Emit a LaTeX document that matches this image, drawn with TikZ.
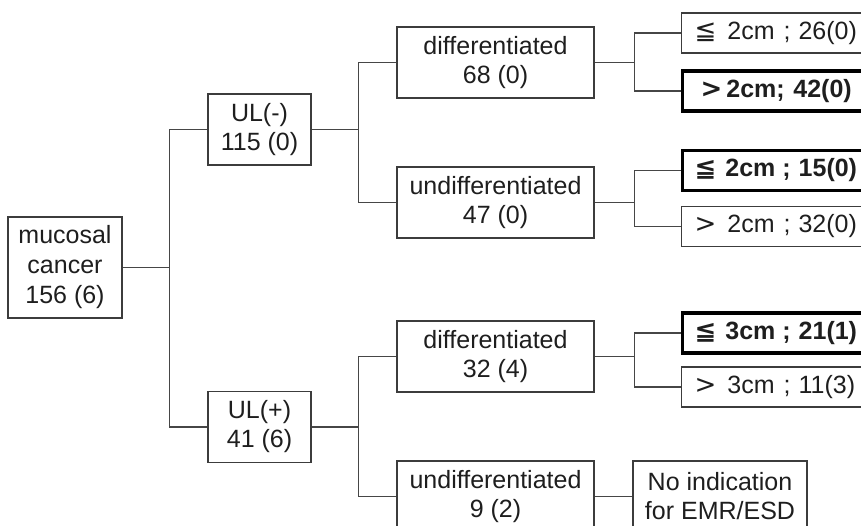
\documentclass[tikz,border=0pt]{standalone}
\usepackage{fontspec}
\setmainfont{Liberation Sans}
\newfontfamily\symf{DejaVu Sans}
\newcommand\symb[1]{{\fontsize{26}{28}\selectfont\symf #1}}
\definecolor{linec}{RGB}{70,70,70}
\definecolor{boxc}{RGB}{60,60,60}
\definecolor{txtc}{RGB}{30,30,30}
\begin{document}
\begin{tikzpicture}[x=1pt,y=-1pt,
  conn/.style={draw=linec,line width=1.2pt},
  box/.style={draw=boxc,line width=1.3pt,align=center,inner sep=0pt,text=txtc,
    font=\fontsize{25}{29}\selectfont},
  leaf/.style={draw=boxc,line width=1.3pt,anchor=west,inner ysep=0pt,inner xsep=13pt,
    text width=190pt,align=left,minimum height=40pt,text=txtc,
    font=\fontsize{25}{28}\selectfont},
  leafb/.style={leaf,draw=black,line width=3.2pt,font=\fontsize{25}{28}\selectfont\bfseries}]
\useasboundingbox (0,0) rectangle (861,526);
\clip (0,0) rectangle (861,526);
% level 0
\node[box,minimum width=114pt,minimum height=101pt,font=\fontsize{25}{30}\selectfont] (muc) at (65,267.5) {mucosal\\cancer\\156 (6)};
% level 1
\node[box,minimum width=103pt,minimum height=71pt] (ulm) at (259.5,129.5) {UL(-)\\115 (0)};
\node[box,minimum width=103pt,minimum height=71pt] (ulp) at (259.5,427) {UL(+)\\41 (6)};
% level 2
\node[box,minimum width=197pt,minimum height=71pt] (d1) at (495.5,62.5) {differentiated\\68 (0)};
\node[box,minimum width=197pt,minimum height=71pt] (u1) at (495.5,202.5) {undifferentiated\\47 (0)};
\node[box,minimum width=197pt,minimum height=71pt] (d2) at (495.5,356.5) {differentiated\\32 (4)};
\node[box,minimum width=197pt,minimum height=71pt] (u2) at (495.5,496.5) {undifferentiated\\9 (2)};
% level 3
\node[leaf] (a1) at (681,33) {\symb{≦}\hspace{11pt}2cm\hspace{9pt};\hspace{8pt}26(0)};
\node[leafb] (a2) at (681,91) {\hspace*{5pt}\symb{>}\hspace{4pt}2cm;\hspace{8.7pt}42(0)};
\node[leafb] (a3) at (681,170.5) {\hspace*{-1pt}\symb{≦}\hspace{9pt}2cm\hspace{7pt};\hspace{8pt}15(0)};
\node[leaf] (a4) at (681,226.5) {\symb{>}\hspace{11pt}2cm\hspace{9pt};\hspace{8pt}32(0)};
\node[leafb] (a5) at (681,333) {\hspace*{-1pt}\symb{≦}\hspace{9pt}3cm\hspace{7pt};\hspace{8pt}21(1)};
\node[leaf] (a6) at (681,387) {\symb{>}\hspace{11pt}3cm\hspace{9pt};\hspace{8pt}11(3)};
\node[box,minimum width=174pt,minimum height=71pt] (noind) at (720,496.5) {No indication\\for EMR/ESD};
% connectors
\draw[conn] (muc.east) -- ++(47,0) |- (ulm.west);
\draw[conn] (muc.east) ++(47,0) |- (ulp.west);
\draw[conn] (ulm.east) -- ++(47,0) |- (d1.west);
\draw[conn] (ulm.east) ++(47,0) |- (u1.west);
\draw[conn] (ulp.east) -- ++(47,0) |- (d2.west);
\draw[conn] (ulp.east) ++(47,0) |- (u2.west);
\draw[conn] (d1.east) -- ++(40,0) |- (a1.west);
\draw[conn] (d1.east) ++(40,0) |- (a2.west);
\draw[conn] (u1.east) -- ++(40,0) |- (a3.west);
\draw[conn] (u1.east) ++(40,0) |- (a4.west);
\draw[conn] (d2.east) -- ++(40,0) |- (a5.west);
\draw[conn] (d2.east) ++(40,0) |- (a6.west);
\draw[conn] (u2.east) -- (noind.west);
\end{tikzpicture}
\end{document}
